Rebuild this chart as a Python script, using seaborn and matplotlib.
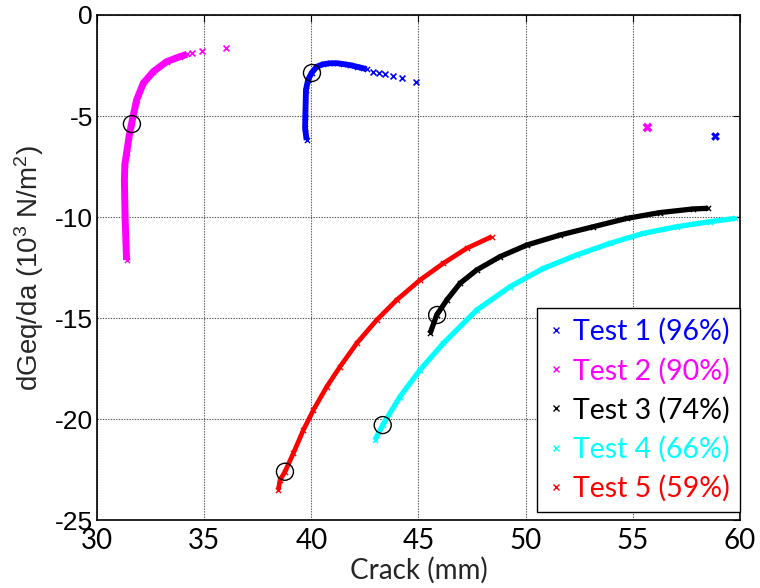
import matplotlib
matplotlib.use("Agg")
import matplotlib.pyplot as plt
from matplotlib.lines import Line2D
import seaborn as sns
import pandas as pd

# Test 1 (96%)
t1_x = [39.78, 39.71, 39.72, 39.75, 39.85, 40.02, 40.25, 40.55, 40.87, 41.2, 41.49, 41.8, 42.12, 42.4, 42.58]
t1_y = [-6.19, -5.6, -5.03, -3.71, -3.2, -2.86, -2.56, -2.44, -2.39, -2.39, -2.43, -2.48, -2.56, -2.63, -2.69]
t1_tail_x = [42.86, 43.17, 43.44, 43.83, 44.23, 44.89, 58.84]
t1_tail_y = [-2.80, -2.86, -2.90, -3.00, -3.14, -3.33, -5.99]

# Test 2 (90%)
t2_x = [31.38, 31.31, 31.28, 31.30, 31.38, 31.5, 31.62, 31.85, 32.16, 32.63, 33.25, 33.87, 34.2]
t2_y = [-12.13, -9.98, -8.17, -7.4, -6.84, -6.0, -5.35, -4.2, -3.38, -2.8, -2.31, -2.06, -1.95]
t2_tail_x = [34.42, 34.89, 36.0, 55.65]
t2_tail_y = [-1.86, -1.78, -1.62, -5.53]

# Test 3 (74%)
t3_x = [45.54, 45.85, 46.32, 46.94, 47.72, 48.81, 50.05, 51.61, 53.16, 54.71, 56.27, 57.82, 58.52]
t3_y = [-15.76, -14.85, -14.11, -13.28, -12.62, -11.96, -11.39, -10.89, -10.48, -10.07, -9.78, -9.60, -9.57]

# Test 4 (66%)
t4_x = [42.97, 43.33, 44.14, 45.07, 46.16, 47.72, 49.27, 50.83, 52.38, 53.94, 55.49, 57.05, 58.6, 59.77]
t4_y = [-21.04, -20.3, -18.89, -17.57, -16.25, -14.6, -13.45, -12.54, -11.88, -11.3, -10.81, -10.48, -10.23, -10.07]

# Test 5 (59%)
t5_x = [38.46, 38.54, 38.77, 39.16, 39.63, 40.1, 40.72, 41.34, 42.12, 43.05, 43.98, 45.07, 46.16, 47.25, 48.42]
t5_y = [-23.51, -23.02, -22.61, -21.7, -20.54, -19.55, -18.4, -17.41, -16.25, -15.1, -14.11, -13.12, -12.29, -11.55, -10.97]

# Highlighted points (open circles)
circ_x = [40.03, 31.63, 45.87, 43.33, 38.77]
circ_y = [-2.87, -5.40, -14.85, -20.30, -22.61]

labels = ["Test 1 (96%)", "Test 2 (90%)", "Test 3 (74%)", "Test 4 (66%)", "Test 5 (59%)"]
colors = ["#0000ff", "#ff00ff", "#000000", "#00ffff", "#ff0000"]
xticks = [30, 35, 40, 45, 50, 55, 60]
yticks = [0, -5, -10, -15, -20, -25]

sns.set_style("white")
plt.rcParams["mathtext.default"] = "regular"

fig = plt.figure(figsize=(7.6, 5.88), dpi=100)
ax = fig.add_axes([0.1276, 0.1156, 0.8461, 0.8589])

series = [(t1_x, t1_y, 4.2), (t2_x, t2_y, 5.0), (t3_x, t3_y, 3.8), (t4_x, t4_y, 3.8), (t5_x, t5_y, 3.4)]
for (xs, ys, lw), c in zip(series, colors):
    df = pd.DataFrame({"x": xs, "y": ys})
    sns.lineplot(data=df, x="x", y="y", sort=False, estimator=None, color=c,
                 linewidth=lw, solid_capstyle="butt", ax=ax, zorder=3)
    sns.scatterplot(data=df, x="x", y="y", marker="x", color=c, s=14,
                    linewidth=1.0, ax=ax, zorder=3)

for xs, ys, c in [(t1_tail_x, t1_tail_y, colors[0]), (t2_tail_x, t2_tail_y, colors[1])]:
    df = pd.DataFrame({"x": xs, "y": ys})
    sns.scatterplot(data=df, x="x", y="y", marker="x", color=c, s=18,
                    linewidth=1.2, ax=ax, zorder=3)

# Clustered outliers drawn a little heavier
sns.scatterplot(x=[t1_tail_x[-1]], y=[t1_tail_y[-1]], marker="X", color=colors[0], s=40,
                linewidth=0, ax=ax, zorder=3)
sns.scatterplot(x=[t2_tail_x[-1]], y=[t2_tail_y[-1]], marker="X", color=colors[1], s=50,
                linewidth=0, ax=ax, zorder=3)

sns.scatterplot(x=circ_x, y=circ_y, marker="o", s=150, facecolor="none",
                edgecolor="black", linewidth=1.0, ax=ax, zorder=4)

ax.set_xlim(30, 60)
ax.set_ylim(-25, 0)
ax.set_xticks(xticks)
ax.set_yticks(yticks)
ax.set_xticklabels([str(v) for v in xticks], fontfamily="Lato", fontsize=20)
ax.set_yticklabels([str(v) for v in yticks], fontfamily="Liberation Sans", fontsize=19)
ax.tick_params(direction="in", length=5, width=0.8, colors="black", top=True, right=True)
ax.tick_params(axis="y", pad=3)
ax.tick_params(axis="x", pad=6)
ax.grid(True, color="#555555", linestyle=(0, (1.2, 1.2)), linewidth=0.8, zorder=0)
for s in ax.spines.values():
    s.set_color("black")
    s.set_linewidth(1.2)

ax.set_xlabel("Crack (mm)", fontfamily="Lato", fontsize=20, labelpad=2)
ax.set_ylabel("dGeq/da (10$^3$ N/m$^2$)", fontfamily="Liberation Sans", fontsize=20)
ax.yaxis.set_label_coords(-0.080, 0.5)

handles = [Line2D([], [], linestyle="none", marker="x", color=c, markersize=4, markeredgewidth=1.0)
           for c in colors]
leg = ax.legend(handles, labels, loc="lower right", bbox_to_anchor=(1.0, 0.016),
                prop={"family": "Lato", "size": 20.5}, frameon=True, fancybox=False,
                edgecolor="black", framealpha=1, handlelength=0.6, handletextpad=0.3,
                labelspacing=0.43, borderpad=0.36, borderaxespad=0)
leg.get_frame().set_linewidth(1.0)
for txt, c in zip(leg.get_texts(), colors):
    txt.set_color(c)

fig.savefig("out.png", dpi=100)
